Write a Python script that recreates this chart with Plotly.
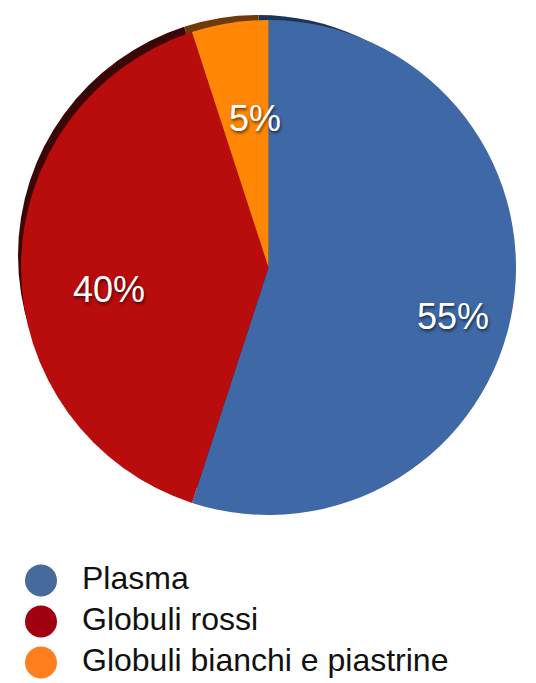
import math
import plotly.graph_objects as go

categories = ["Plasma", "Globuli rossi", "Globuli bianchi e piastrine"]
values = [55, 40, 5]
slice_colors = ["#3e69a6", "#b90c0c", "#ff8705"]
rim_colors = ["#1d3558", "#3a0606", "#6e3a08"]
legend_colors = ["#466a9c", "#a10010", "#ff7f1e"]

W, H = 536, 683
FONT = "Liberation Sans, Arial, Helvetica, sans-serif"

# pie geometry (pixels)
px0, px1, py0, py1 = 15, 522, 20, 515
rim_dx, rim_dy, rim_shrink = -10, -12, 7


def dom(x0, x1, y0, y1):
    return dict(x=[x0 / W, x1 / W], y=[1 - y1 / H, 1 - y0 / H])


fig = go.Figure()

# dark rim (3D edge) behind
fig.add_trace(go.Pie(
    labels=categories, values=values, sort=False, direction="clockwise", rotation=0,
    marker=dict(colors=rim_colors, line=dict(width=0)),
    textinfo="none", showlegend=False, hoverinfo="skip",
    domain=dom(px0 + rim_dx + rim_shrink, px1 + rim_dx - rim_shrink,
               py0 + rim_dy + rim_shrink, py1 + rim_dy - rim_shrink),
))

# main pie
fig.add_trace(go.Pie(
    labels=categories, values=values, sort=False, direction="clockwise", rotation=0,
    marker=dict(colors=slice_colors, line=dict(width=0)),
    textinfo="none", showlegend=False, hoverinfo="label+percent",
    domain=dom(px0, px1, py0, py1),
))

# percentage labels placed at each slice's mid-angle (overlay axes spanning the pie)
total = sum(values)
cum = 0
label_r = 0.70
label_cx, label_cy = 0.055, -0.09  # perspective offset of the label ring
annotations = []
for v in values:
    mid = (cum + v / 2) / total * 2 * math.pi
    cum += v
    annotations.append(dict(
        x=label_cx + label_r * math.sin(mid),
        y=label_cy + label_r * math.cos(mid),
        xref="x2", yref="y2", text=f"{v / total * 100:.0f}%", showarrow=False,
        xanchor="center", yanchor="middle",
        font=dict(family=FONT, size=36, color="white",
                  shadow="1px 2px 3px rgba(0,0,0,0.6)"),
    ))

R = (py1 - py0) / 2
cx, cy = (px0 + px1) / 2, (py0 + py1) / 2
fig.add_trace(go.Scatter(x=[None], y=[None], xaxis="x2", yaxis="y2",
                         showlegend=False, hoverinfo="skip"))

# custom legend with round markers
rows = list(range(len(categories)))
fig.add_trace(go.Scatter(
    x=[0] * len(categories), y=rows, mode="markers",
    marker=dict(symbol="circle", size=32, color=legend_colors, line=dict(width=0)),
    showlegend=False, hoverinfo="skip", cliponaxis=False,
))
fig.add_trace(go.Scatter(
    x=[41] * len(categories), y=rows, mode="text", text=categories,
    textposition="middle right",
    textfont=dict(family=FONT, size=32, color="#111111"),
    showlegend=False, hoverinfo="skip", cliponaxis=False,
))

fig.update_layout(
    width=W, height=H,
    margin=dict(l=0, r=0, t=0, b=0),
    paper_bgcolor="white", plot_bgcolor="rgba(0,0,0,0)",
    xaxis=dict(visible=False, domain=[0, 1], range=[-41, W - 41], fixedrange=True),
    yaxis=dict(visible=False, domain=[1 - 683 / H, 1 - 560 / H], range=[2.5, -0.5], fixedrange=True),
    xaxis2=dict(visible=False, domain=[(cx - R) / W, (cx + R) / W], range=[-1, 1], fixedrange=True),
    yaxis2=dict(visible=False, domain=[1 - (cy + R) / H, 1 - (cy - R) / H], range=[-1, 1], fixedrange=True),
    annotations=annotations,
)

fig.write_html("out.html")
